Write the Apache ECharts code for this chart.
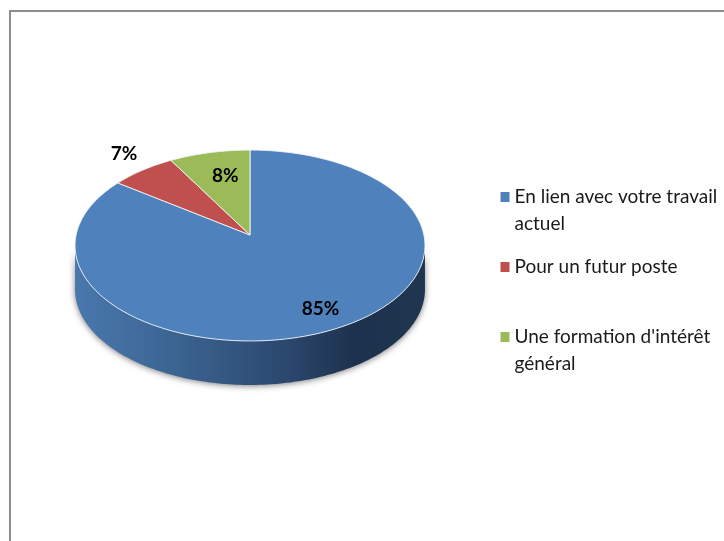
<!DOCTYPE html>
<html><head><meta charset="utf-8">
<style>html,body{margin:0;padding:0;background:#fff}#c{width:724px;height:541px}</style>
<script src="https://cdn.jsdelivr.net/npm/echarts@6/dist/echarts.min.js"></script>
</head><body><div id="c"></div>
<script>
const categories = ["En lien avec votre travail\nactuel", "Pour un futur poste", "Une formation d'intérêt\ngénéral"];
const values = [85, 6.7, 8.3];
const colors = ['#4f81bd', '#c0504d', '#9bbb59'];

// pie projection: tilted disc with slight perspective
const view = { cx: 250, cy: 235, a: 173.9, b: 94.3, k: 0.11, depth: 44 };
const labelRadius = [0.8, 1.2, 0.66];
const labelNudge = [[2, 1], [1, -4], [3, -3]];
const font = 'Lato, "Noto Sans", sans-serif';

function project(theta, r, dy) {
  const u = r * Math.sin(theta), v = -r * Math.cos(theta), d = 1 - view.k * v;
  return [view.cx + view.a * u / d, view.cy + view.b * v / d + (dy || 0)];
}
function arc(t0, t1, dy) {
  const n = Math.max(2, Math.ceil(Math.abs(t1 - t0) / 0.02)), pts = [];
  for (let i = 0; i <= n; i++) pts.push(project(t0 + (t1 - t0) * i / n, 1, dy));
  return pts;
}
const total = values.reduce((s, v) => s + v, 0);
const tangent = Math.acos(-view.k);

function renderSlice(idx) {
  return function (params, api) {
    const value = api.value(0), start = api.value(1);
    const t0 = start / total * 2 * Math.PI, t1 = (start + value) / total * 2 * Math.PI;
    const children = [];
    const w0 = Math.max(t0, tangent), w1 = Math.min(t1, 2 * Math.PI - tangent);
    if (w1 > w0) {
      const top = arc(w0, w1, 0), bottom = arc(w0, w1, view.depth).reverse();
      children.push({
        type: 'polygon', shape: { points: top.concat(bottom) },
        style: {
          fill: new echarts.graphic.LinearGradient(0, 0, 1, 0, [
            { offset: 0, color: '#4a78ad' }, { offset: 0.3, color: '#3a6390' },
            { offset: 0.62, color: '#2a466c' }, { offset: 0.8, color: '#1c314d' },
            { offset: 1, color: '#203650' }]),
          shadowColor: 'rgba(0,0,0,0.5)', shadowBlur: 6, shadowOffsetY: 1
        }
      });
    }
    children.push({
      type: 'polygon',
      shape: { points: [[view.cx, view.cy]].concat(arc(t0, t1, 0)) },
      style: { fill: colors[idx], stroke: 'rgba(240,244,248,0.9)', lineWidth: 1, lineJoin: 'round' }
    });
    const p = project((t0 + t1) / 2, labelRadius[idx], 0);
    children.push({
      type: 'text', z2: 10,
      style: { text: Math.round(value / total * 100) + '%', x: p[0] + labelNudge[idx][0], y: p[1] + labelNudge[idx][1],
        align: 'center', verticalAlign: 'middle', font: 'bold 19px ' + font, fill: '#000' }
    });
    return { type: 'group', children };
  };
}

let cum = 0;
const series = categories.map((name, i) => {
  const item = [values[i], cum]; cum += values[i];
  return { type: 'custom', coordinateSystem: 'none', name, renderItem: renderSlice(i), data: [item], itemStyle: { color: colors[i] },
    z: i === 0 ? 2 : 3, silent: true, animation: false };
});
const legendTops = [156.5, 253.5, 296.5];
const legend = categories.map((name, i) => ({
  data: [name], orient: 'vertical', left: 500.5, top: legendTops[i], icon: 'rect', itemWidth: 9, itemHeight: 10,
  selectedMode: false, padding: 0,
  formatter: n => (n.indexOf('\n') >= 0 ? '\n' : '') + n,
  textStyle: { fontFamily: font, fontSize: 19, lineHeight: 27, color: '#1a1a1a' }
}));
const chart = echarts.init(document.getElementById('c'), null, { renderer: 'canvas' });
chart.setOption({
  animation: false, backgroundColor: '#fff', legend, series,
  graphic: [{ type: 'polyline', shape: { points: [[10, 541], [10, 11], [724, 11]] }, style: { fill: 'none', stroke: '#8c8c8c', lineWidth: 2 }, silent: true }]
});
</script></body></html>
